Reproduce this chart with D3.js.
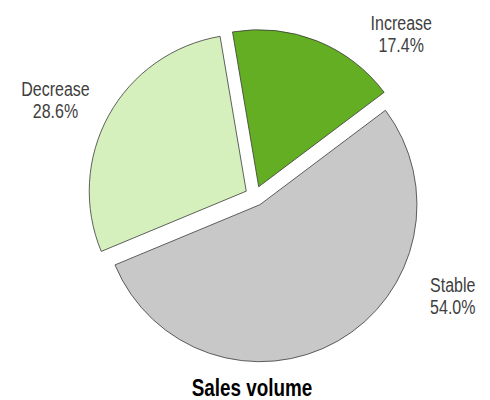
<!DOCTYPE html>
<html>
<head>
<meta charset="utf-8">
<script src="https://cdn.jsdelivr.net/npm/d3@7"></script>
<style>
  body { margin: 0; background: #fff; }
  svg text { font-family: "Liberation Sans", Arial, sans-serif; }
</style>
</head>
<body>
<div id="chart"></div>
<script>
//Data
const categories = ['Increase', 'Stable', 'Decrease'];
const shares = [17.4, 54.0, 28.6];
const sliceColors = ['#64ae23', '#c8c8c8', '#d5f0bc'];
const title = 'Sales volume';

//Layout
const W = 490, H = 400;
const cx = 255, cy = 196, radius = 157, explode = 10;
const startDeg = -9.6;
const narrow = 0.82; // reference uses a condensed face, squeeze horizontally
// label placement (polar, degrees clockwise from 12 o'clock)
const labelPolar = { Increase: [41.9, 219], Stable: [116.5, 221], Decrease: [-64, 222] };

const svg = d3.select('#chart').append('svg')
  .attr('width', W).attr('height', H);

const pie = d3.pie().sort(null).value(d => d.v)
  .startAngle(startDeg * Math.PI / 180)
  .endAngle(startDeg * Math.PI / 180 + 2 * Math.PI);
const arc = d3.arc().innerRadius(0).outerRadius(radius);

const data = categories.map((c, i) => ({ c, v: shares[i], col: sliceColors[i] }));
const arcs = pie(data);

const g = svg.append('g').attr('transform', `translate(${cx},${cy})`);

g.selectAll('path')
  .data(arcs)
  .join('path')
  .attr('transform', d => {
    const mid = (d.startAngle + d.endAngle) / 2;
    return `translate(${explode * Math.sin(mid)},${-explode * Math.cos(mid)})`;
  })
  .attr('d', arc)
  .attr('fill', d => d.data.col)
  .attr('stroke', '#3a3a3a')
  .attr('stroke-width', 0.8)
  .attr('stroke-linejoin', 'round');

// Labels
arcs.forEach(d => {
  const [deg, r] = labelPolar[d.data.c];
  const [lx, ly] = d3.pointRadial(deg * Math.PI / 180, r);
  const t = g.append('text')
    .attr('transform', `translate(${lx},${ly}) scale(${narrow},1)`)
    .attr('text-anchor', 'middle')
    .attr('fill', '#404040')
    .attr('font-size', 19.5);
  t.append('tspan').attr('x', 0).attr('y', -3).text(d.data.c);
  t.append('tspan').attr('x', 0).attr('y', 19).text(d.data.v.toFixed(1) + '%');
});

// Title
svg.append('text')
  .attr('transform', `translate(252,396) scale(${narrow},1)`)
  .attr('text-anchor', 'middle')
  .attr('font-weight', 700)
  .attr('font-size', 23)
  .attr('fill', '#000')
  .text(title);
</script>
</body>
</html>
